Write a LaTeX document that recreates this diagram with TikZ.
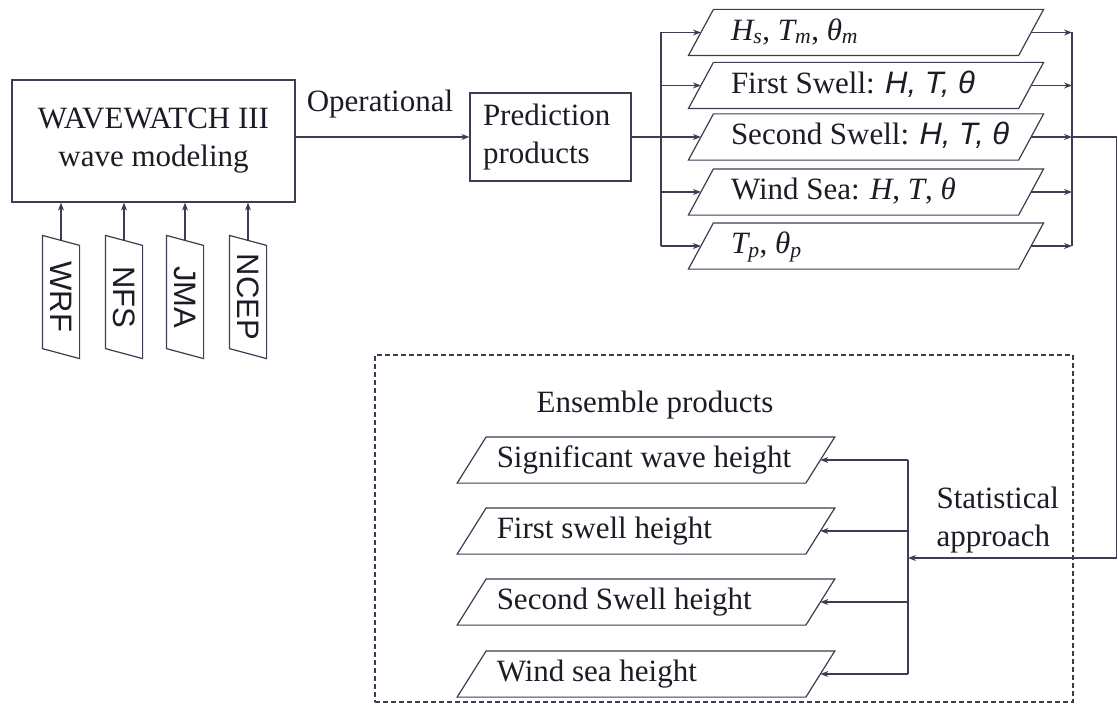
\documentclass[tikz,border=0pt]{standalone}
\usepackage{fontspec}
\setmainfont{Liberation Serif}
\setsansfont{Liberation Sans}
\usepackage{graphicx}
\usetikzlibrary{arrows.meta}
\definecolor{lc}{RGB}{60,60,82}
\definecolor{tc}{RGB}{28,28,38}
\newcommand{\sit}[1]{{\sffamily\itshape #1}}
\newcommand{\tit}[1]{{\itshape #1}}
\newcommand{\drawprl}[2]{\draw ([xshift=-#2]#1.south west) -- ([xshift=#2]#1.north west) -- ([xshift=#2]#1.north east) -- ([xshift=-#2]#1.south east) -- cycle;}
\newcommand{\drawsrc}[1]{\draw ([yshift=5pt]#1.north west) -- ([yshift=-5pt]#1.north east) -- ([yshift=-5pt]#1.south east) -- ([yshift=5pt]#1.south west) -- cycle;}
\newcommand{\toprow}[1]{\makebox[329pt][l]{\hspace{29.5pt}\strut #1}}
\newcommand{\ensrow}[1]{\makebox[347.5pt][l]{\hspace{24.5pt}\strut #1}}
\begin{document}
\begin{tikzpicture}[x=1pt,y=-1pt, line width=1.2pt, color=lc, text=tc,
  font=\fontsize{31}{38}\selectfont,
  arr/.style={-{Stealth[length=8pt,width=6pt]}},
  box/.style={draw, rectangle, inner sep=0pt},
  prow/.style={rectangle, inner sep=0pt, minimum height=45pt, minimum width=329pt},
  erow/.style={rectangle, inner sep=0pt, minimum height=45pt, minimum width=347.5pt},
  src/.style={rectangle, inner sep=0pt, minimum width=36pt, minimum height=112pt},
  dashbox/.style={draw, dash pattern=on 5pt off 3pt, rectangle, inner sep=0pt},
]
\useasboundingbox (0,0) rectangle (1118,706);

% main boxes
\node[box, minimum width=283pt, minimum height=122pt, align=center] (ww) at (153.5,141) {WAVEWATCH III\\wave modeling};
\node[box, minimum width=161pt, minimum height=88pt, text width=135pt, inner xsep=13pt, align=left] (pred) at (550.5,137) {Prediction\\products};
\node[anchor=base, inner sep=0pt] (op) at (380,112) {Operational};

% sources
\node[src] (wrf) at (61,297) {\rotatebox{-90}{\sffamily WRF}};
\node[src] (nfs) at (124,297) {\rotatebox{-90}{\sffamily NFS}};
\node[src] (jma) at (185,297) {\rotatebox{-90}{\sffamily JMA}};
\node[src] (ncep) at (248,297) {\rotatebox{-90}{\sffamily NCEP}};
\drawsrc{wrf}\drawsrc{nfs}\drawsrc{jma}\drawsrc{ncep}
\foreach \s in {wrf,nfs,jma,ncep}{\draw[arr] (\s.north) -- (\s.north |- ww.south);}

% prediction product rows
\node[prow] (p1) at (866,32.5) {\toprow{\tit{H}\textsubscript{\tit{s}}, \tit{T}\textsubscript{\tit{m}}, \tit{θ}\textsubscript{\tit{m}}}};
\node[prow] (p2) at (866,85.5) {\toprow{First Swell: \sit{H, T, θ}}};
\node[prow] (p3) at (866,137) {\toprow{Second Swell: \sit{H, T, θ}}};
\node[prow] (p4) at (866,192) {\toprow{Wind Sea: \tit{H}, \tit{T}, \tit{θ}}};
\node[prow] (p5) at (866,246) {\toprow{\tit{T}\textsubscript{\tit{p}}, \tit{θ}\textsubscript{\tit{p}}}};
\foreach \p in {p1,p2,p3,p4,p5}{\drawprl{\p}{12.5pt}}

% ensemble frame and rows
\node[dashbox, minimum width=698pt, minimum height=347pt] (frame) at (724,528.5) {};
\node[anchor=base, inner sep=0pt] (enst) at (655,412) {Ensemble products};
\node[erow] (e1) at (646,460) {\ensrow{Significant wave height}};
\node[erow] (e2) at (646,531) {\ensrow{First swell height}};
\node[erow] (e3) at (646,602) {\ensrow{Second Swell height}};
\node[erow] (e4) at (646,674) {\ensrow{Wind sea height}};
\foreach \e in {e1,e2,e3,e4}{\drawprl{\e}{14.5pt}}
\node[anchor=north west, align=left, inner sep=0pt] (stat) at (936,486) {Statistical\\approach};

% connectors
\coordinate (lbus) at (661,0);
\coordinate (rbus) at (1072,0);
\coordinate (ebus) at (908,0);
\coordinate (redge) at (1116.5,558);

\draw[arr] (ww.east |- pred.west) -- (pred.west);
\draw[arr] (pred.east) -- (p3.west);
\draw (p1.west -| lbus) -- (p5.west -| lbus);
\foreach \p in {p1,p2,p4,p5}{\draw[arr] (\p.west -| lbus) -- (\p.west);}
\foreach \p in {p1,p2,p3,p4,p5}{\draw[arr] (\p.east) -- (\p.east -| rbus);}
\draw (p1.east -| rbus) -- (p5.east -| rbus);
\draw (p3.east -| rbus) -- (p3.east -| redge) -- (redge);
\draw[arr] (redge) -- (redge -| ebus);
\draw (e1.east -| ebus) -- (e4.east -| ebus);
\foreach \e in {e1,e2,e3,e4}{\draw[arr] (\e.east -| ebus) -- (\e.east);}
\end{tikzpicture}
\end{document}
